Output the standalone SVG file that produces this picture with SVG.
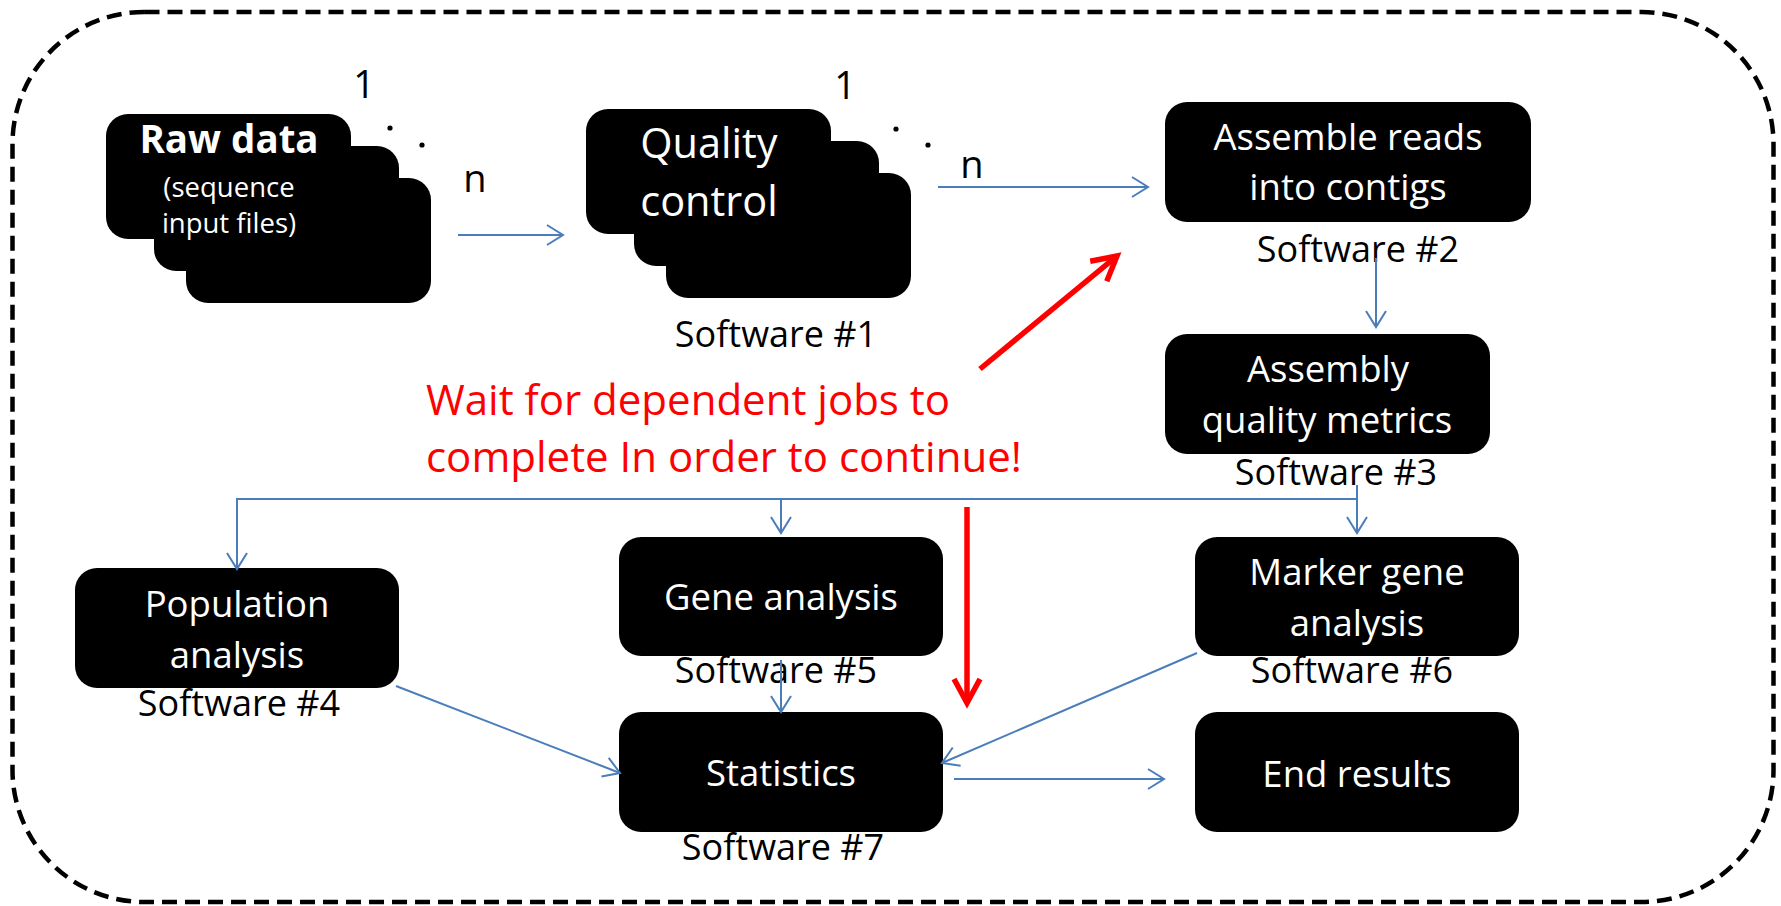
<svg xmlns="http://www.w3.org/2000/svg" width="1781" height="906" viewBox="0 0 1781 906">
<style>
.box{fill:#000}
.in{fill:#fff;font-family:"Open Sans","Liberation Sans",sans-serif;font-size:36.5px;text-anchor:middle}
.lbl{fill:#000;font-family:"Open Sans","Liberation Sans",sans-serif;font-size:36px;text-anchor:middle}
.mark{fill:#000;font-family:"Open Sans","Liberation Sans",sans-serif;font-size:38px;text-anchor:middle}
.red{fill:#ff0000;font-family:"Open Sans","Liberation Sans",sans-serif;font-size:42px}
.blue{stroke:#4a7ebb;stroke-width:2;fill:none}
.redl{stroke:#ff0000;stroke-width:5.5;fill:none}
</style>
<defs>
<marker id="ab" markerUnits="userSpaceOnUse" viewBox="-20 -14 24 28" refX="0" refY="0" markerWidth="24" markerHeight="28" orient="auto" overflow="visible">
<path d="M-16,-10 L0,0 L-16,10" fill="none" stroke="#4a7ebb" stroke-width="2"/>
</marker>
<marker id="ar" markerUnits="userSpaceOnUse" viewBox="-30 -18 34 36" refX="0" refY="0" markerWidth="34" markerHeight="36" orient="auto" overflow="visible">
<path d="M-24,-13 L0,0 L-24,13" fill="none" stroke="#ff0000" stroke-width="5.5" stroke-linejoin="miter"/>
</marker>
</defs>
<rect x="12.5" y="12" width="1761" height="890" rx="132" ry="132" fill="none" stroke="#000" stroke-width="4.5" stroke-dasharray="15 8"/>

<g id="raw-data">
<rect class="box" x="186" y="178" width="245" height="125" rx="22"/>
<rect class="box" x="154" y="146" width="245" height="125" rx="22"/>
<rect class="box" x="106" y="114" width="245" height="125" rx="22"/>
<text x="229" y="153" fill="#fff" font-family="'Open Sans','Liberation Sans',sans-serif" font-size="38.5" font-weight="bold" text-anchor="middle">Raw data</text>
<text x="229" y="197" fill="#fff" font-family="'Open Sans','Liberation Sans',sans-serif" font-size="27.5" text-anchor="middle">(sequence</text>
<text x="229" y="233" fill="#fff" font-family="'Open Sans','Liberation Sans',sans-serif" font-size="27.5" text-anchor="middle">input files)</text>
<text class="mark" x="364" y="98">1</text>
<circle cx="390" cy="128" r="2.6" fill="#000"/>
<circle cx="422" cy="145" r="2.6" fill="#000"/>
<text class="mark" x="475" y="192">n</text>
</g>

<g id="quality-control">
<rect class="box" x="666" y="173" width="245" height="125" rx="22"/>
<rect class="box" x="634" y="141" width="245" height="125" rx="22"/>
<rect class="box" x="586" y="109" width="245" height="125" rx="22"/>
<text x="709" y="158" fill="#fff" font-family="'Open Sans','Liberation Sans',sans-serif" font-size="41.5" text-anchor="middle">Quality</text>
<text x="709" y="216" fill="#fff" font-family="'Open Sans','Liberation Sans',sans-serif" font-size="41.5" text-anchor="middle">control</text>
<text class="lbl" x="776" y="347">Software #1</text>
<text class="mark" x="845" y="99">1</text>
<circle cx="896" cy="129" r="2.6" fill="#000"/>
<circle cx="928" cy="145" r="2.6" fill="#000"/>
<text class="mark" x="972" y="178">n</text>
</g>

<g id="assemble">
<rect class="box" x="1165" y="102" width="366" height="120" rx="22"/>
<text class="in" x="1348" y="150">Assemble reads</text>
<text class="in" x="1348" y="200">into contigs</text>
<text class="lbl" x="1358" y="262">Software #2</text>
</g>

<g id="assembly-metrics">
<rect class="box" x="1165" y="334" width="325" height="120" rx="22"/>
<text class="in" x="1328" y="382">Assembly</text>
<text class="in" x="1327" y="433">quality metrics</text>
<text class="lbl" x="1336" y="485">Software #3</text>
</g>

<g id="population">
<rect class="box" x="75" y="568" width="324" height="120" rx="22"/>
<text class="in" x="237" y="617">Population</text>
<text class="in" x="237" y="668">analysis</text>
<text class="lbl" x="239" y="716">Software #4</text>
</g>

<g id="gene">
<rect class="box" x="619" y="537" width="324" height="119" rx="22"/>
<text class="in" x="781" y="610">Gene analysis</text>
<text class="lbl" x="776" y="683">Software #5</text>
</g>

<g id="marker">
<rect class="box" x="1195" y="537" width="324" height="119" rx="22"/>
<text class="in" x="1357" y="585">Marker gene</text>
<text class="in" x="1357" y="636">analysis</text>
<text class="lbl" x="1352" y="683">Software #6</text>
</g>

<g id="statistics">
<rect class="box" x="619" y="712" width="324" height="120" rx="22"/>
<text class="in" x="781" y="786">Statistics</text>
<text class="lbl" x="783" y="860">Software #7</text>
</g>

<g id="end-results">
<rect class="box" x="1195" y="712" width="324" height="120" rx="22"/>
<text class="in" x="1357" y="787">End results</text>
</g>

<g id="note">
<text class="red" x="426" y="415">Wait for dependent jobs to</text>
<text class="red" x="426" y="472">complete In order to continue!</text>
</g>

<g id="connectors">
<line class="blue" x1="458" y1="235" x2="563" y2="235" marker-end="url(#ab)"/>
<line class="blue" x1="938" y1="187" x2="1148" y2="187" marker-end="url(#ab)"/>
<line class="blue" x1="1376" y1="258" x2="1376" y2="327" marker-end="url(#ab)"/>
<line class="blue" x1="1357" y1="485" x2="1357" y2="533" marker-end="url(#ab)"/>
<polyline class="blue" points="1357,499 237,499 237,569" marker-end="url(#ab)"/>
<line class="blue" x1="781" y1="499" x2="781" y2="533" marker-end="url(#ab)"/>
<line class="blue" x1="781" y1="660" x2="781" y2="712" marker-end="url(#ab)"/>
<line class="blue" x1="396" y1="686" x2="620" y2="773" marker-end="url(#ab)"/>
<line class="blue" x1="1197" y1="653" x2="942" y2="763" marker-end="url(#ab)"/>
<line class="blue" x1="954" y1="779" x2="1164" y2="779" marker-end="url(#ab)"/>
<line class="redl" x1="980" y1="369" x2="1117" y2="256" marker-end="url(#ar)"/>
<line class="redl" x1="967" y1="507" x2="967" y2="703" marker-end="url(#ar)"/>
</g>
</svg>
